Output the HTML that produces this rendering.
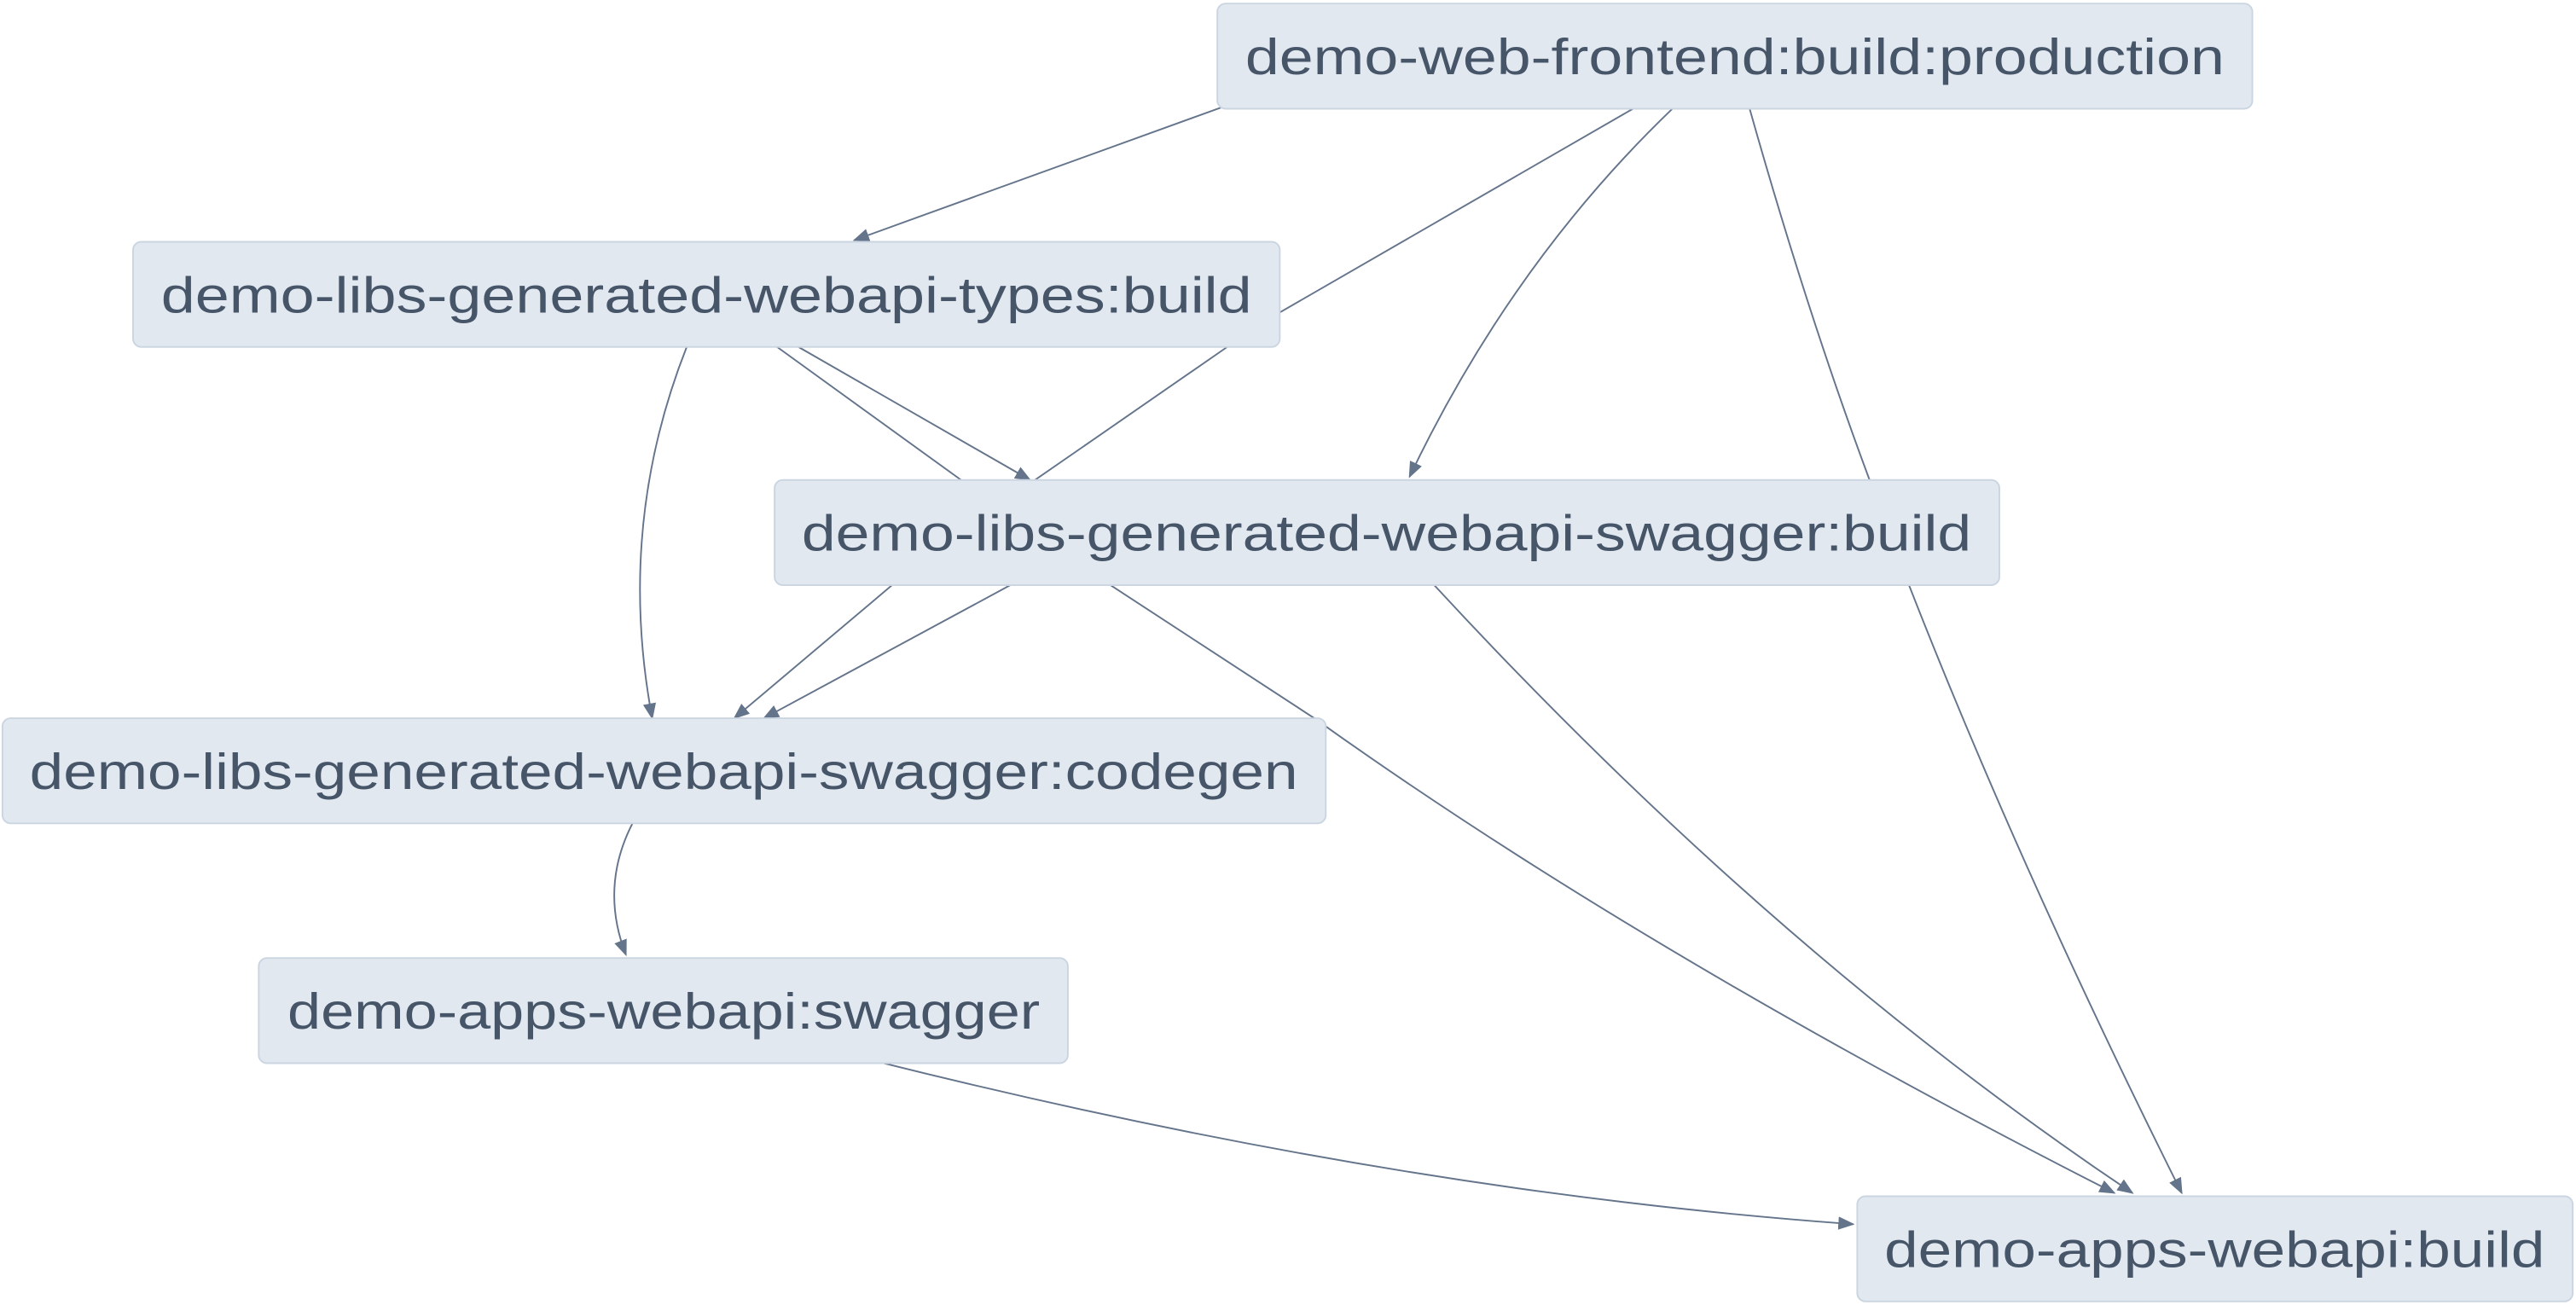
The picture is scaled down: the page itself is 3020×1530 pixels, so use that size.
<!DOCTYPE html>
<html><head><meta charset="utf-8"><style>
html,body{margin:0;padding:0;background:#fff;width:3020px;height:1530px;overflow:hidden}
svg{display:block}
text{font-family:"Liberation Sans",sans-serif;font-size:31px;fill:#475569}
</style></head><body>
<svg width="3020" height="1530" viewBox="0 0 1568 794" xmlns="http://www.w3.org/2000/svg">
<defs>
<marker id="a" markerUnits="userSpaceOnUse" markerWidth="10" markerHeight="8" refX="9" refY="4" orient="auto">
<path d="M0,0 L10,4 L0,8 z" fill="#64748b"/>
</marker>
</defs>
<g fill="none" stroke="#64748b" stroke-width="1">
<path d="M744,65 L520,146" marker-end="url(#a)"/>
<path d="M994,66 L779,190 L747,211 L630,292 L615,356 L465,437" marker-end="url(#a)"/>
<path d="M1018,66 Q920,160 858,290" marker-end="url(#a)"/>
<path d="M1065,66 Q1100,190 1138,292 L1162,356 Q1230,530 1328,726" marker-end="url(#a)"/>
<path d="M418,211 Q375,320 397,437" marker-end="url(#a)"/>
<path d="M486,211 L627,292" marker-end="url(#a)"/>
<path d="M473,211 L585,292 L560,330 L543,356 L447,437" marker-end="url(#a)"/>
<path d="M676,356 L800,437 Q1000,580 1287,726" marker-end="url(#a)"/>
<path d="M873,356 Q1080,580 1298,726" marker-end="url(#a)"/>
<path d="M385,501 Q365,540 381,581" marker-end="url(#a)"/>
<path d="M538,647 Q850,725 1128,745" marker-end="url(#a)"/>
</g>
<g fill="#e2e8f0" stroke="#cbd5e1" stroke-width="1">
<rect x="741" y="2" width="630" height="64" rx="5"/>
<rect x="81" y="147" width="698" height="64" rx="5"/>
<rect x="471.5" y="292" width="745.5" height="64" rx="5"/>
<rect x="1.5" y="437" width="805.5" height="64" rx="5"/>
<rect x="157.5" y="583" width="492.5" height="64" rx="5"/>
<rect x="1130.5" y="728" width="435.5" height="64" rx="5"/>
</g>
<text x="758" y="45" textLength="596" lengthAdjust="spacingAndGlyphs">demo-web-frontend:build:production</text>
<text x="98" y="190" textLength="664" lengthAdjust="spacingAndGlyphs">demo-libs-generated-webapi-types:build</text>
<text x="488" y="335" textLength="712" lengthAdjust="spacingAndGlyphs">demo-libs-generated-webapi-swagger:build</text>
<text x="18" y="480" textLength="772" lengthAdjust="spacingAndGlyphs">demo-libs-generated-webapi-swagger:codegen</text>
<text x="175" y="626" textLength="458" lengthAdjust="spacingAndGlyphs">demo-apps-webapi:swagger</text>
<text x="1147" y="771" textLength="402" lengthAdjust="spacingAndGlyphs">demo-apps-webapi:build</text>
</svg>
</body></html>
